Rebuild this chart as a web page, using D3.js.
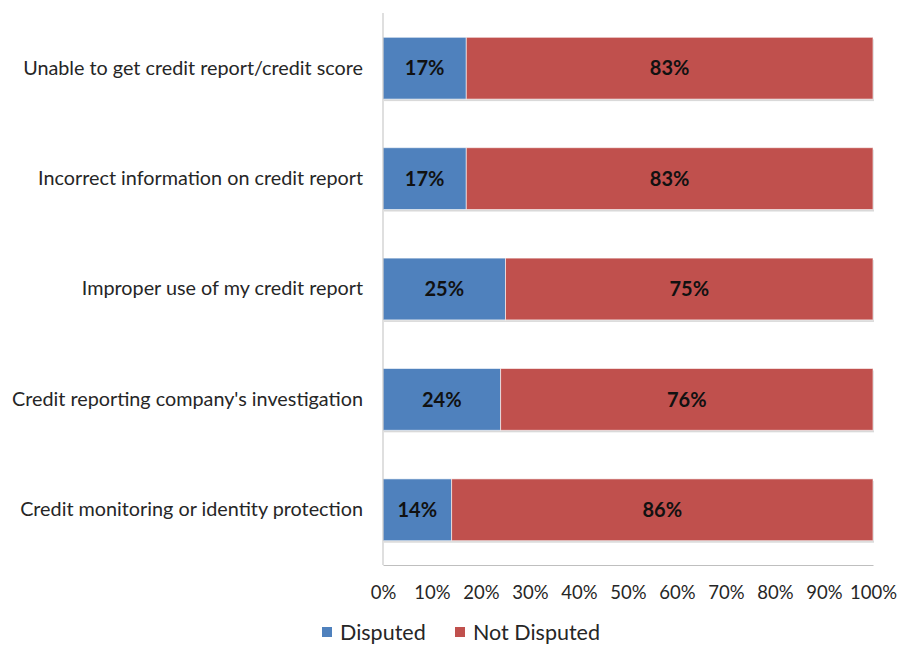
<!DOCTYPE html>
<html>
<head>
<meta charset="utf-8">
<script src="https://cdn.jsdelivr.net/npm/d3@7"></script>
<style>
  body { margin: 0; background: #fff; }
  svg text { font-family: Lato, "Open Sans", sans-serif; fill: #262626; }
</style>
</head>
<body>
<div id="chart"></div>
<script>
// chart values
const categories = [
    "Unable to get credit report/credit score",
    "Incorrect information on credit report",
    "Improper use of my credit report",
    "Credit reporting company's investigation",
    "Credit monitoring or identity protection"
];
const disputed = [17, 17, 25, 24, 14];
const notDisputed = [83, 83, 75, 76, 86];
const seriesNames = ["Disputed", "Not Disputed"];
const tickValues = [0, 10, 20, 30, 40, 50, 60, 70, 80, 90, 100];

const width = 900, height = 645;
const plot = { left: 383, right: 873, top: 13, bottom: 565 };
const colors = ["#4F81BD", "#C0504D"];

let svg = d3.select("#chart")
    .append("svg")
    .attr("width", width)
    .attr("height", height);

let x = d3.scaleLinear()
    .domain([0, 100])
    .range([plot.left, plot.right]);

let y = d3.scaleBand()
    .domain(categories)
    .range([plot.top, plot.bottom])
    .paddingInner(0.44)
    .paddingOuter(0.22);

let rows = categories.map((c, i) => ({ name: c, Disputed: disputed[i], "Not Disputed": notDisputed[i] }));
let stacked = d3.stack().keys(seriesNames)(rows);

// soft shadow under bars
svg.append("g")
    .selectAll("rect")
    .data(rows)
    .enter()
    .append("rect")
    .attr("x", x(0) + 1)
    .attr("y", d => y(d.name) + 2)
    .attr("width", x(100) - x(0))
    .attr("height", y.bandwidth())
    .attr("fill", "#d9d9d9");

let layers = svg.append("g")
    .selectAll("g")
    .data(stacked)
    .enter()
    .append("g")
    .attr("fill", (d, i) => colors[i]);

layers.selectAll("rect")
    .data(d => d)
    .enter()
    .append("rect")
    .attr("x", d => x(d[0]))
    .attr("y", d => y(d.data.name))
    .attr("width", d => x(d[1]) - x(d[0]))
    .attr("height", y.bandwidth())
    .attr("stroke", "#ffffff")
    .attr("stroke-opacity", 0.6)
    .attr("stroke-width", 1);

layers.selectAll("text")
    .data(d => d)
    .enter()
    .append("text")
    .attr("x", d => (x(d[0]) + x(d[1])) / 2)
    .attr("y", d => y(d.data.name) + y.bandwidth() / 2)
    .attr("dy", "0.36em")
    .attr("text-anchor", "middle")
    .style("font-size", "20px")
    .style("font-weight", "bold")
    .style("fill", "#111")
    .text(d => `${d[1] - d[0]}%`);

// axes
let xAxis = svg.append("g")
    .attr("transform", `translate(0, ${plot.bottom})`)
    .call(d3.axisBottom(x).tickValues(tickValues).tickSize(0).tickPadding(21).tickFormat(d => d + "%"));
xAxis.select(".domain").attr("stroke", "#bfbfbf");
xAxis.selectAll("text").style("font-size", "18.5px").style("font-family", "Lato, 'Open Sans', sans-serif").attr("fill", "#262626");

let yAxis = svg.append("g")
    .attr("transform", `translate(${plot.left}, 0)`)
    .call(d3.axisLeft(y).tickSize(0).tickPadding(20));
yAxis.select(".domain").attr("stroke", "#bfbfbf").attr("d", `M0,${plot.top}V${plot.bottom}`);
yAxis.selectAll("text").style("font-size", "19.8px").style("font-family", "Lato, 'Open Sans', sans-serif").attr("fill", "#262626");

// legend
let legendX = [322, 455];
let legend = svg.append("g")
    .selectAll("g")
    .data(seriesNames)
    .enter()
    .append("g")
    .attr("transform", (d, i) => `translate(${legendX[i]}, 632)`);

legend.append("rect")
    .attr("x", 0)
    .attr("y", -5)
    .attr("width", 10)
    .attr("height", 10)
    .attr("fill", (d, i) => colors[i]);

legend.append("text")
    .attr("x", 18)
    .attr("dy", "0.35em")
    .style("font-size", "21.5px")
    .text(d => d);
</script>
</body>
</html>
